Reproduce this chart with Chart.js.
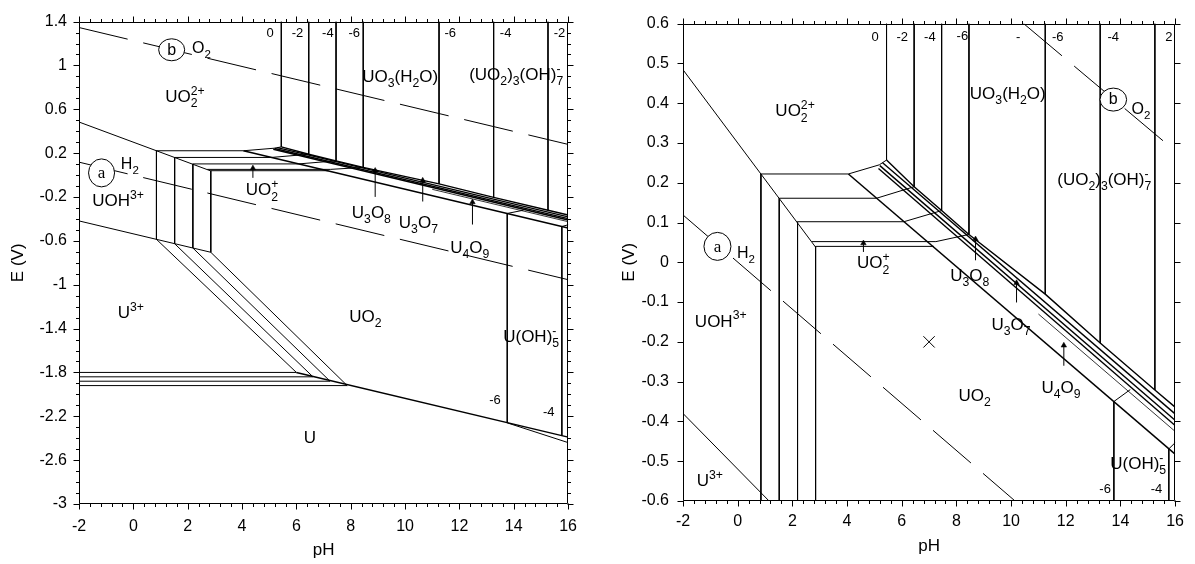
<!DOCTYPE html>
<html>
<head>
<meta charset="utf-8">
<title>Uranium E–pH diagrams</title>
<script src="https://cdn.jsdelivr.net/npm/chart.js@4.4.1/dist/chart.umd.min.js"></script>
<style>
  html, body { margin: 0; padding: 0; background: #fff; }
  #wrap { position: relative; width: 1195px; height: 564px; overflow: hidden; }
  #wide { position: absolute; left: 0; top: 0; }
  #zoom { position: absolute; left: 590px; top: 0; }
</style>
</head>
<body>
<div id="wrap">
  <canvas id="wide" width="590" height="564"></canvas>
  <canvas id="zoom" width="605" height="564"></canvas>
</div>
<script>
// ---------- axes ----------
const phTicks = [-2, 0, 2, 4, 6, 8, 10, 12, 14, 16];
const eTicksWide = [-3, -2.6, -2.2, -1.8, -1.4, -1, -0.6, -0.2, 0.2, 0.6, 1, 1.4];
const eTicksZoom = [-0.6, -0.5, -0.4, -0.3, -0.2, -0.1, 0, 0.1, 0.2, 0.3, 0.4, 0.5, 0.6];

// ---------- water stability limits (a: H2, b: O2) ----------
const o2LineWide = [[-2, 1.346], [16, 0.28]];
const h2LineWide = [[-2, 0.118], [16, -0.954]];
const o2LineZoom = [[10.46, 0.6], [16, 0.28]];
const h2LineZoom = [[-2, 0.119], [10.4, -0.615]];

// ---------- UO2(2+) / UOH(3+) / UO2(+) fields (log c = 0, -2, -4, -6) ----------
const uo2UohLine = [[-2, 0.484], [2.85, 0.038]];
const uo2pPH = [0.85, 1.52, 2.19, 2.85];
const uo2pTop = [0.222, 0.161, 0.102, 0.040];
const uo2pTopEnd = [4.05, 5.08, 6.08, 7.18];
const uo2pBottomWide = [-0.586, -0.626, -0.665, -0.704];
const uo2pBottomZoom = [-0.6, -0.6, -0.6, -0.6];
const uo2pTopExtra = [[2.72, 0.052], [7.25, 0.052]];
const uo2pLinks = [
  [[4.05, 0.222], [5.18, 0.245], [5.445, 0.257]],
  [[5.08, 0.161], [6.455, 0.19]],
  [[6.08, 0.102], [7.46, 0.13]],
  [[7.25, 0.052], [8.46, 0.07]]
];

// ---------- UO3(H2O) field limits ----------
const uo3PH = [5.445, 6.455, 7.46, 8.46, 11.25, 13.26, 15.26];
const uo3Bottom = [0.257, 0.19, 0.13, 0.07, -0.08, -0.203, -0.321];

// ---------- mixed oxides U3O8 / U3O7 / U4O9 ----------
const oxideUpper = [[5.445, 0.257], [6.455, 0.19], [7.46, 0.13], [8.46, 0.07],
                    [11.25, -0.08], [13.26, -0.203], [15.26, -0.321], [16, -0.364]];
const oxideLines = [
  [[5.3, 0.250], [16, -0.381]],
  [[5.2, 0.243], [16, -0.397]],
  [[5.15, 0.236], [16, -0.41]]
];
const oxideThin = [[11.0, -0.13], [16, -0.425]];
const u4o9Line = [[4.05, 0.222], [16, -0.482]];

// ---------- U(OH)5- ----------
const uoh5PH = [13.76, 15.77];
const uoh5Top = [-0.35, -0.469];
const uoh5BottomWide = [-2.26, -2.376];
const uoh5BottomZoom = [-0.6, -0.6];
const uoh5Links = [[[13.76, -0.35], [14.36, -0.32]], [[15.77, -0.469], [16.2, -0.44]]];

// ---------- U(3+) and U metal ----------
const u3UohWide = [[-2, -0.418], [2.85, -0.704]];
const u3UohZoom = [[-2, -0.38], [1.22, -0.605]];
const u3MetalE = [-1.80, -1.84, -1.88, -1.92];
const u3MetalEnd = [6.0, 6.61, 7.24, 7.87];
const uMetalLine = [[6.0, -1.80], [16, -2.39]];
const uMetalHydroxLine = [[13.76, -2.26], [16, -2.44]];

// ---------- concentration labels (log c) ----------
const concTextWide = ['0', '-2', '-4', '-6', '-6', '-4', '-2', '-6', '-4'];
const concPHWide = [5.03, 6.04, 7.16, 8.13, 11.66, 13.70, 15.68, 13.31, 15.29];
const concEWide = [1.303, 1.303, 1.303, 1.303, 1.303, 1.303, 1.303, -2.041, -2.152];
const concTextZoom = ['0', '-2', '-4', '-6', '-', '-6', '-4', '2', '-6', '-4'];
const concPHZoom = [5.03, 6.02, 7.03, 8.22, 10.26, 11.71, 13.74, 15.77, 13.44, 15.32];
const concEZoom = [0.567, 0.567, 0.567, 0.570, 0.567, 0.567, 0.567, 0.567, -0.567, -0.567];

// ---------- arrows pointing into thin fields ----------
const arrowPHWide = [4.40, 8.90, 10.65, 12.48];
const arrowTailWide = [-0.025, -0.199, -0.241, -0.451];
const arrowHeadWide = [0.062, 0.040, -0.050, -0.247];
const arrowPHZoom = [4.60, 8.70, 10.2, 11.93];
const arrowTailZoom = [0.026, 0.005, -0.101, -0.260];
const arrowHeadZoom = [0.048, 0.058, -0.052, -0.209];

// ---------- marked point ----------
const markerZoom = [[7, -0.2]];

// ---------- species names ----------
const speciesWide = [
  ['UO_2^{2+}', 1.90, 0.72], ['UOH^{3+}', -0.56, -0.229], ['UO_2^+', 4.74, -0.13],
  ['U^{3+}', -0.09, -1.249], ['UO_2', 8.54, -1.283], ['U', 6.50, -2.388],
  ['U(OH)_5^-', 14.64, -1.469], ['UO_3(H_2O)', 9.82, 0.906], ['(UO_2)_3(OH)_7^-', 14.09, 0.923],
  ['U_3O_8', 8.76, -0.335], ['U_3O_7', 10.49, -0.425], ['U_4O_9', 12.38, -0.658]
];
const gasWide = [['H_2', -0.13, 0.105], ['O_2', 2.51, 1.165]];
const speciesZoom = [
  ['UO_2^{2+}', 2.10, 0.382], ['UO_2^+', 4.96, 0.0], ['UO_3(H_2O)', 9.88, 0.426],
  ['(UO_2)_3(OH)_7^-', 13.41, 0.209], ['UOH^{3+}', -0.62, -0.146], ['U^{3+}', -1.02, -0.548],
  ['UO_2', 8.67, -0.333], ['U_3O_8', 8.49, -0.032], ['U_3O_7', 10.0, -0.155],
  ['U_4O_9', 11.83, -0.314], ['U(OH)_5^-', 14.65, -0.504]
];
const gasZoom = [['H_2', 0.30, 0.025], ['O_2', 14.75, 0.387]];
const circleTag = ['a', 'b'];
const circlePHWide = [-1.17, 1.41];
const circleEWide = [0.02, 1.143];
const circlePHZoom = [-0.74, 13.74];
const circleEZoom = [0.040, 0.409];

// ======================================================================
const FONT = "'Liberation Sans', Arial, Helvetica, sans-serif";
const SERIF = "'Liberation Serif', 'Times New Roman', serif";
Chart.defaults.font.family = FONT;
Chart.defaults.color = '#000';

function seg(points, extra) {
  return Object.assign({
    data: points.map(([x, y]) => ({ x, y })),
    showLine: true, borderColor: '#000', borderWidth: 1,
    pointRadius: 0, pointHoverRadius: 0, fill: false, tension: 0
  }, extra || {});
}

function buildDatasets(p) {
  const ds = [];
  const dash = { borderDash: [50, 16] };
  ds.push(seg(p.o2, dash));
  ds.push(seg(p.h2, dash));
  ds.push(seg(uo2UohLine));
  ds.push(seg(p.u3Uoh));
  uo2pPH.forEach((ph, i) => {
    ds.push(seg([[ph, uo2pTop[i]], [ph, p.uo2pBottom[i]]]));
    ds.push(seg([[ph, uo2pTop[i]], [uo2pTopEnd[i], uo2pTop[i]]]));
  });
  ds.push(seg(uo2pTopExtra));
  uo2pLinks.forEach(l => ds.push(seg(l)));
  uo3PH.forEach((ph, i) => ds.push(seg([[ph, p.eMax], [ph, uo3Bottom[i]]])));
  ds.push(seg(oxideUpper, { borderWidth: 1.4 }));
  oxideLines.forEach(l => ds.push(seg(l, { borderWidth: 1.4 })));
  ds.push(seg(oxideThin, { borderWidth: 0.8 }));
  ds.push(seg(u4o9Line, { borderWidth: 1.5 }));
  uoh5PH.forEach((ph, i) => ds.push(seg([[ph, uoh5Top[i]], [ph, p.uoh5Bottom[i]]])));
  uoh5Links.forEach(l => ds.push(seg(l)));
  if (p.lower) {
    u3MetalE.forEach((e, i) => ds.push(seg([[-2, e], [u3MetalEnd[i], e]])));
    uo2pPH.forEach((ph, i) => ds.push(seg([[ph, p.uo2pBottom[i]], [u3MetalEnd[i], u3MetalE[i]]])));
    ds.push(seg(uMetalLine, { borderWidth: 1.5 }));
    ds.push(seg(uMetalHydroxLine));
  }
  p.arrowPH.forEach((ph, i) => ds.push(seg([[ph, p.arrowTail[i]], [ph, p.arrowHead[i]]], {
    pointRadius: [0, 3.2], pointStyle: 'triangle',
    pointBackgroundColor: '#000', pointBorderColor: '#000', pointBorderWidth: 0.5
  })));
  if (p.marker) {
    ds.push(seg(p.marker, {
      showLine: false, pointRadius: 8, pointStyle: 'crossRot',
      pointBorderColor: '#000', pointBorderWidth: 1
    }));
  }
  return ds;
}

// frame with outward major/minor ticks on all four sides, plus axis titles
const axisFrame = {
  id: 'axisFrame',
  afterDraw(chart, args, o) {
    const { ctx, chartArea: a, scales: { x, y } } = chart;
    const L = Math.round(a.left) + 0.5, R = Math.round(a.right) - 0.5;
    const T = Math.round(a.top) + 0.5, B = Math.round(a.bottom) - 0.5;
    ctx.save();
    ctx.strokeStyle = '#000';
    ctx.lineWidth = 1;
    ctx.beginPath();
    ctx.rect(L, T, R - L, B - T);
    const marks = (min, max, step, major) => {
      const n = Math.round((max - min) / step), out = [];
      for (let i = 0; i <= n; i++) {
        const v = min + i * step;
        const r = (v - min) / major;
        out.push([v, Math.abs(r - Math.round(r)) < 1e-6]);
      }
      return out;
    };
    marks(x.min, x.max, o.xMinor, o.xMajor).forEach(([v, maj]) => {
      const px = Math.round(x.getPixelForValue(v)) + 0.5;
      const len = maj ? o.majorLen : o.minorLen;
      ctx.moveTo(px, B); ctx.lineTo(px, B + len);
      ctx.moveTo(px, T); ctx.lineTo(px, T - len);
    });
    marks(y.min, y.max, o.yMinor, o.yMajor).forEach(([v, maj]) => {
      const py = Math.round(y.getPixelForValue(v)) + 0.5;
      const len = maj ? o.majorLen : o.minorLen;
      ctx.moveTo(L, py); ctx.lineTo(L - len, py);
      ctx.moveTo(R, py); ctx.lineTo(R + len, py);
    });
    ctx.stroke();
    ctx.fillStyle = '#000';
    ctx.font = '17px ' + FONT;
    ctx.textAlign = 'center';
    ctx.textBaseline = 'middle';
    ctx.fillText('pH', (a.left + a.right) / 2, a.bottom + o.xTitleOffset);
    ctx.translate(a.left - o.yTitleOffset, (a.top + a.bottom) / 2);
    ctx.rotate(-Math.PI / 2);
    ctx.fillText('E (V)', 0, 0);
    ctx.restore();
  }
};

// rich text with sub/superscripts: "UO_2^{2+}"
function parseRich(s) {
  const out = [];
  let i = 0;
  while (i < s.length) {
    const c = s[i];
    if (c === '_' || c === '^') {
      let t;
      if (s[i + 1] === '{') { const j = s.indexOf('}', i + 2); t = s.slice(i + 2, j); i = j + 1; }
      else { t = s[i + 1]; i += 2; }
      out.push({ t, k: c === '_' ? 'sub' : 'sup' });
    } else {
      let j = i;
      while (j < s.length && s[j] !== '_' && s[j] !== '^') j++;
      out.push({ t: s.slice(i, j), k: 'n' });
      i = j;
    }
  }
  return out;
}

function drawRich(ctx, str, cx, cy, size, family) {
  const parts = parseRich(str);
  const items = [];
  let x = 0, prev = null;
  for (const p of parts) {
    const fs = p.k === 'n' ? size : size * 0.72;
    ctx.font = fs + 'px ' + family;
    const w = ctx.measureText(p.t).width;
    const sx = (p.k === 'sup' && prev && prev.k === 'sub') ? prev.sx : x;
    const dy = p.k === 'sub' ? size * 0.3 : (p.k === 'sup' ? -size * 0.42 : 0);
    items.push({ t: p.t, fs, sx, dy });
    x = Math.max(x, sx + w);
    prev = { k: p.k, sx };
  }
  const x0 = cx - x / 2, base = cy + size * 0.36;
  ctx.textAlign = 'left';
  ctx.textBaseline = 'alphabetic';
  for (const it of items) {
    ctx.font = it.fs + 'px ' + family;
    ctx.fillText(it.t, x0 + it.sx, base + it.dy);
  }
}

const fieldLabels = {
  id: 'fieldLabels',
  afterDatasetsDraw(chart, args, o) {
    const { ctx, scales: { x, y } } = chart;
    ctx.save();
    ctx.fillStyle = '#000';
    ctx.strokeStyle = '#000';
    // circled tags on the water lines
    o.circles.ph.forEach((ph, i) => {
      const px = x.getPixelForValue(ph), py = y.getPixelForValue(o.circles.e[i]);
      const [rx, ry] = o.circles.r[i];
      ctx.beginPath();
      ctx.ellipse(px, py, rx, ry, 0, 0, Math.PI * 2);
      ctx.fillStyle = '#fff';
      ctx.fill();
      ctx.lineWidth = 1;
      ctx.stroke();
      ctx.fillStyle = '#000';
      const tag = circleTag[i];
      drawRich(ctx, tag, px, py - 1, tag === 'a' ? 17 : 16, tag === 'a' ? SERIF : FONT);
    });
    o.species.forEach(([t, ph, e]) => drawRich(ctx, t, x.getPixelForValue(ph), y.getPixelForValue(e), 17, FONT));
    o.gases.forEach(([t, ph, e]) => drawRich(ctx, t, x.getPixelForValue(ph), y.getPixelForValue(e), 16, FONT));
    o.conc.text.forEach((t, i) => drawRich(ctx, t, x.getPixelForValue(o.conc.ph[i]), y.getPixelForValue(o.conc.e[i]), 13, FONT));
    ctx.restore();
  }
};

function makeChart(canvas, p) {
  return new Chart(canvas, {
    type: 'scatter',
    data: { datasets: buildDatasets(p) },
    options: {
      responsive: false, animation: false, devicePixelRatio: 1, events: [],
      layout: { autoPadding: false, padding: { left: 0, top: p.box.top, right: p.box.right, bottom: 0 } },
      plugins: {
        legend: { display: false }, tooltip: { enabled: false },
        axisFrame: {
          xMinor: 0.4, xMajor: 2, yMinor: p.eMinor, yMajor: p.eMajor,
          majorLen: 6, minorLen: 3.5, xTitleOffset: p.box.xTitle, yTitleOffset: p.box.yTitle
        },
        fieldLabels: { species: p.species, gases: p.gases, conc: p.conc, circles: p.circles }
      },
      scales: {
        x: {
          type: 'linear', min: -2, max: 16,
          afterBuildTicks: s => { s.ticks = phTicks.map(v => ({ value: v })); },
          afterFit: s => { s.height = p.box.xAxis; },
          grid: { display: false, drawTicks: false }, border: { display: false },
          ticks: { padding: p.box.xPad, font: { size: 16 }, color: '#000', maxRotation: 0, autoSkip: false, callback: v => String(v) }
        },
        y: {
          type: 'linear', min: p.eMin, max: p.eMax,
          afterBuildTicks: s => { s.ticks = p.eTicks.map(v => ({ value: v })); },
          afterFit: s => { s.width = p.box.yAxis; },
          grid: { display: false, drawTicks: false }, border: { display: false },
          ticks: { padding: p.box.yPad, font: { size: 16 }, color: '#000', autoSkip: false, callback: v => String(v) }
        }
      }
    },
    plugins: [axisFrame, fieldLabels]
  });
}

makeChart(document.getElementById('wide'), {
  eMin: -3, eMax: 1.4, eTicks: eTicksWide, eMinor: 0.1, eMajor: 0.4,
  o2: o2LineWide, h2: h2LineWide, u3Uoh: u3UohWide,
  uo2pBottom: uo2pBottomWide, uoh5Bottom: uoh5BottomWide, lower: true,
  arrowPH: arrowPHWide, arrowTail: arrowTailWide, arrowHead: arrowHeadWide, marker: null,
  species: speciesWide, gases: gasWide,
  conc: { text: concTextWide, ph: concPHWide, e: concEWide },
  circles: { ph: circlePHWide, e: circleEWide, r: [[13, 14], [13, 11]] },
  box: { top: 14, right: 18, xAxis: 60, yAxis: 79, xPad: 13, yPad: 12, xTitle: 46, yTitle: 61 }
});

makeChart(document.getElementById('zoom'), {
  eMin: -0.6, eMax: 0.6, eTicks: eTicksZoom, eMinor: 0.1, eMajor: 0.1,
  o2: o2LineZoom, h2: h2LineZoom, u3Uoh: u3UohZoom,
  uo2pBottom: uo2pBottomZoom, uoh5Bottom: uoh5BottomZoom, lower: false,
  arrowPH: arrowPHZoom, arrowTail: arrowTailZoom, arrowHead: arrowHeadZoom, marker: markerZoom,
  species: speciesZoom, gases: gasZoom,
  conc: { text: concTextZoom, ph: concPHZoom, e: concEZoom },
  circles: { ph: circlePHZoom, e: circleEZoom, r: [[13.5, 14], [13.3, 11.5]] },
  box: { top: 10, right: 18, xAxis: 63, yAxis: 93, xPad: 11, yPad: 14, xTitle: 45, yTitle: 54 }
});
</script>
</body>
</html>
